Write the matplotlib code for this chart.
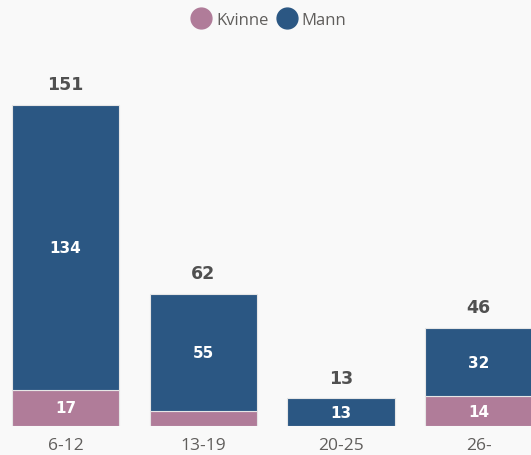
import matplotlib.pyplot as plt
from matplotlib.lines import Line2D

# Age groups and counts per gender
groups = ['6-12', '13-19', '20-25', '26-']
kvinne = [17, 7, 0, 14]
mann = [134, 55, 13, 32]

PINK = '#B07C99'
BLUE = '#2B5783'
GREY = '#605E5C'
BG = '#F9F9F9'

plt.rcParams['font.family'] = ['DejaVu Sans Condensed', 'DejaVu Sans']

fig = plt.figure(figsize=(5.31, 4.56), dpi=100, facecolor=BG)
ax = fig.add_axes([0, 0.0636, 1, 0.805])
ax.set_facecolor(BG)

x = list(range(len(groups)))
totals = [k + m for k, m in zip(kvinne, mann)]

ax.bar(x, kvinne, width=0.78, color=PINK, edgecolor='#E6E6E6', linewidth=0.8)
ax.bar(x, mann, width=0.78, bottom=kvinne, color=BLUE, edgecolor='#E6E6E6', linewidth=0.8)

# Segment labels, skipped where the segment is too thin
for i in x:
    if kvinne[i] >= 10:
        ax.text(i, kvinne[i] / 2, str(kvinne[i]), ha='center', va='center',
                color='white', fontsize=11, fontweight='bold')
    if mann[i] >= 10:
        ax.text(i, kvinne[i] + mann[i] / 2, str(mann[i]), ha='center', va='center',
                color='white', fontsize=11, fontweight='bold')
    ax.text(i, totals[i] + 5.5, str(totals[i]), ha='center', va='bottom',
            color='#505050', fontsize=12.5, fontweight='bold')

ax.set_xlim(-0.476, 3.38)
ax.set_ylim(0, 172.6)
ax.set_xticks(x)
ax.set_xticklabels(groups, color=GREY, fontsize=12.5, family=['Open Sans', 'DejaVu Sans'])
ax.tick_params(axis='x', length=0, pad=8)
ax.set_yticks([])
for s in ax.spines.values():
    s.set_visible(False)

handles = [Line2D([], [], marker='o', linestyle='', markersize=15, color=PINK),
           Line2D([], [], marker='o', linestyle='', markersize=15, color=BLUE)]
fig.legend(handles, ['Kvinne', 'Mann'], loc='center', bbox_to_anchor=(0.5, 0.955),
           ncol=2, frameon=False, handletextpad=-0.1, columnspacing=0.1,
           prop={'family': ['Open Sans', 'DejaVu Sans'], 'size': 12},
           labelcolor=GREY)

fig.savefig('out.png', dpi=100, facecolor=BG)
